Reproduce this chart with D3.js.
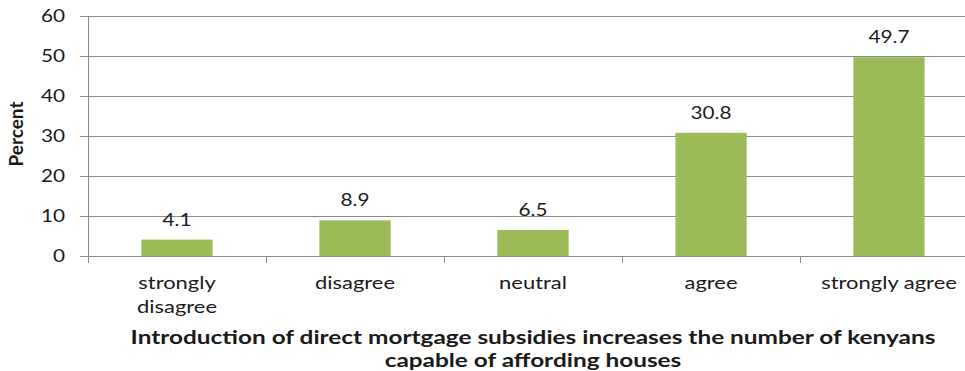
<!DOCTYPE html>
<html>
<head>
<meta charset="utf-8">
<script src="https://cdn.jsdelivr.net/npm/d3@7"></script>
<style>
  html, body { margin: 0; padding: 0; background: #fff; }
  svg { display: block; }
  text { font-family: Lato, "Open Sans", sans-serif; fill: #1a1a1a; }
</style>
</head>
<body>
<svg id="chart" width="965" height="371"></svg>
<script>
// Survey responses (percent of respondents)
const categories = [["strongly", "disagree"], ["disagree"], ["neutral"], ["agree"], ["strongly agree"]];
const values = [4.1, 8.9, 6.5, 30.8, 49.7];
const yTicks = [0, 10, 20, 30, 40, 50, 60];
const yTitle = "Percent";
const xTitle = ["Introduction of direct mortgage subsidies increases the number of kenyans",
                "capable of affording houses"];

const svg = d3.select("#chart");
const plotLeft = 88, plotRight = 978, plotTop = 16, plotBottom = 256;
const stretch = 1.22; // horizontal widening of glyphs

const keys = categories.map((c, i) => i);
const x = d3.scaleBand().domain(keys).range([plotLeft, plotRight]).paddingInner(0.6).paddingOuter(0.3);
const xBound = d3.scaleBand().domain(keys).range([plotLeft, plotRight]);
const y = d3.scaleLinear().domain([0, 60]).range([plotBottom, plotTop]);

const gridColor = "#8a8a8a";

// horizontal gridlines with left tick marks
svg.append("g").selectAll("line").data(yTicks).join("line")
  .attr("x1", plotLeft - 8).attr("x2", plotRight)
  .attr("y1", d => Math.round(y(d)) + 0.5).attr("y2", d => Math.round(y(d)) + 0.5)
  .attr("stroke", gridColor).attr("stroke-width", 1);

// vertical axis line
svg.append("line")
  .attr("x1", plotLeft + 0.5).attr("x2", plotLeft + 0.5)
  .attr("y1", y(60)).attr("y2", plotBottom + 7)
  .attr("stroke", gridColor);

// category boundary ticks
svg.append("g").selectAll("line").data(keys.slice(1).concat([keys.length])).join("line")
  .attr("x1", d => Math.round(plotLeft + d * xBound.step()) + 0.5)
  .attr("x2", d => Math.round(plotLeft + d * xBound.step()) + 0.5)
  .attr("y1", plotBottom).attr("y2", plotBottom + 7)
  .attr("stroke", gridColor);

function label(sel, tx, ty, anchor, sx) {
  return sel.attr("text-anchor", anchor)
    .attr("transform", (d, i) => `translate(${tx(d, i)},${ty(d, i)}) scale(${sx || stretch},1)`);
}

// y tick labels
svg.append("g").selectAll("text").data(yTicks).join("text")
  .call(label, () => 65, d => y(d) + 6, "end")
  .style("font-size", "17px")
  .text(d => d);

// bars
svg.append("g").selectAll("rect").data(values).join("rect")
  .attr("x", (d, i) => x(i))
  .attr("width", x.bandwidth())
  .attr("y", d => y(d))
  .attr("height", d => y(0) - y(d))
  .attr("fill", "#9bbb59");

// value labels
svg.append("g").selectAll("text").data(values).join("text")
  .call(label, (d, i) => x(i) + x.bandwidth() / 2, d => y(d) - 14, "middle")
  .style("font-size", "17px")
  .text(d => d.toFixed(1));

// category labels
const cat = svg.append("g").selectAll("g").data(categories).join("g");
cat.selectAll("text").data((d, i) => d.map((t, j) => ({ t, i, j }))).join("text")
  .call(label, d => x(d.i) + x.bandwidth() / 2, d => 289 + d.j * 24, "middle")
  .style("font-size", "18px")
  .text(d => d.t);

// axis titles
svg.append("text")
  .attr("text-anchor", "middle")
  .attr("transform", `translate(23,134) rotate(-90)`)
  .style("font-size", "19px").style("font-weight", "bold")
  .text(yTitle);

svg.append("g").selectAll("text").data(xTitle).join("text")
  .call(label, () => (plotLeft + plotRight) / 2, (d, i) => 344 + i * 23, "middle", 1.25)
  .style("font-size", "19.5px").style("font-weight", "bold")
  .text(d => d);
</script>
</body>
</html>
